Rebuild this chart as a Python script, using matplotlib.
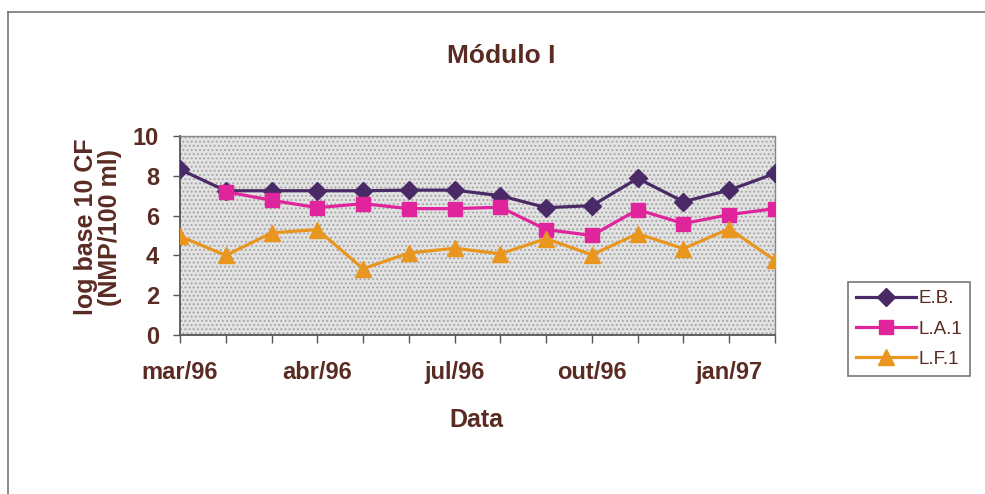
import matplotlib
matplotlib.use("Agg")
import matplotlib.pyplot as plt
import numpy as np
from matplotlib.lines import Line2D
from matplotlib.patches import Rectangle

plt.rcParams['font.family'] = ['Liberation Sans', 'DejaVu Sans']
plt.rcParams['hatch.linewidth'] = 0.8

tick_labels = ["mar/96", "", "", "abr/96", "", "", "jul/96", "", "", "out/96", "", "", "jan/97", ""]
eb  = [8.32, 7.25, 7.25, 7.25, 7.25, 7.28, 7.28, 7.0, 6.4, 6.5, 7.87, 6.7, 7.28, 8.12]
la1 = [np.nan, 7.2, 6.77, 6.4, 6.6, 6.35, 6.35, 6.42, 5.3, 5.0, 6.3, 5.6, 6.05, 6.35]
lf1 = [4.96, 4.0, 5.13, 5.3, 3.33, 4.12, 4.36, 4.08, 4.84, 4.03, 5.09, 4.34, 5.34, 3.75]
series_names = ["E.B.", "L.A.1", "L.F.1"]

text_col = "#5a2b22"
c_eb = "#4a2a66"
c_la = "#e0249c"
c_lf = "#e8961e"

fig = plt.figure(figsize=(9.85, 4.94), dpi=100)
fig.patch.set_facecolor("white")

# outer frame
fig.add_artist(Line2D([8/985, 8/985], [0, 1 - 12/494], transform=fig.transFigure, color="#777777", lw=1.2))
fig.add_artist(Line2D([8/985, 1.0], [1 - 12/494, 1 - 12/494], transform=fig.transFigure, color="#777777", lw=1.2))

ax = fig.add_axes([180/985, (494-335)/494, 595/985, 199/494])
ax.set_facecolor("#e2e2e2")
ax.add_patch(Rectangle((0, 0), 1, 1, transform=ax.transAxes, facecolor="none",
                       hatch="....", edgecolor="#a0a0a0", linewidth=0, zorder=0.5))
x = np.arange(len(tick_labels))

ax.plot(x, eb, color=c_eb, marker="D", markersize=9, lw=2.3, label=series_names[0], zorder=3)
ax.plot(x, la1, color=c_la, marker="s", markersize=10.5, lw=2.3, label=series_names[1], zorder=3)
ax.plot(x, lf1, color=c_lf, marker="^", markersize=12, lw=2.3, label=series_names[2], zorder=3)

ax.set_xlim(0, len(tick_labels) - 1)
ax.set_ylim(0, 10)
ax.set_yticks([0, 2, 4, 6, 8, 10])
ax.set_xticks(x)
ax.set_xticklabels(tick_labels)
ax.tick_params(axis="x", direction="out", length=6, width=1, colors="#555555", labelcolor=text_col,
               labelsize=17, pad=13)
ax.tick_params(axis="y", direction="out", length=5, width=1, colors="#555555", labelcolor=text_col,
               labelsize=17, pad=10)
for lab in ax.get_xticklabels() + ax.get_yticklabels():
    lab.set_fontweight("bold")

for s in ["left", "bottom"]:
    ax.spines[s].set_color("#555555")
    ax.spines[s].set_linewidth(1.3)
for s in ["top", "right"]:
    ax.spines[s].set_color("#888888")
    ax.spines[s].set_linewidth(1.0)
    ax.spines[s].set_linestyle((0, (2, 1)))

fig.text(501/985, 1 - 56/494, "Módulo I", ha="center", va="center", fontsize=19,
         fontweight="bold", color=text_col)
fig.text(476/985, 1 - 420/494, "Data", ha="center", va="center", fontsize=18,
         fontweight="bold", color=text_col)
fig.text(98/985, 1 - 227/494, "log base 10 CF\n(NMP/100 ml)", ha="center", va="center",
         rotation=90, fontsize=18, fontweight="bold", color=text_col, linespacing=1.05)

leg = fig.legend(loc="center", bbox_to_anchor=(909/985, 1 - 329/494), fontsize=13.5,
                 frameon=True, fancybox=False, edgecolor="#555555", handlelength=3.2,
                 borderpad=0.45, labelspacing=0.7, handletextpad=0.1, borderaxespad=0)
leg.get_frame().set_linewidth(1.2)
for t in leg.get_texts():
    t.set_color(text_col)

fig.savefig("out.png", dpi=100)
